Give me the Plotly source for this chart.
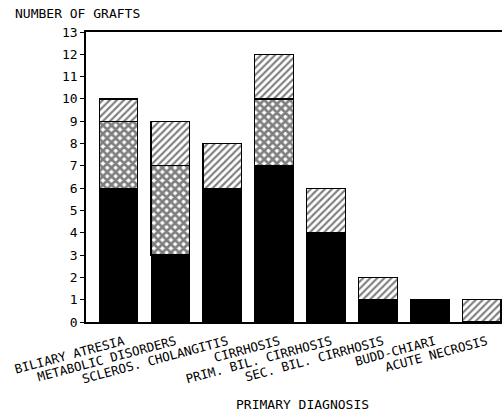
import plotly.graph_objects as go

categories = ["BILIARY ATRESIA", "METABOLIC DISORDERS", "SCLEROS. CHOLANGITIS", "CIRRHOSIS",
              "PRIM. BIL. CIRRHOSIS", "SEC. BIL. CIRRHOSIS", "BUDD-CHIARI", "ACUTE NECROSIS"]
solid_vals = [6, 3, 6, 7, 4, 1, 1, None]
cross_vals = [3, 4, None, 3, None, None, None, None]
diag_vals = [1, 2, 2, 2, 2, 1, None, 1]
y_ticks = list(range(0, 14))

FONT = "DejaVu Sans Mono"

fig = go.Figure()
fig.add_trace(go.Bar(x=categories, y=solid_vals, name="solid",
                     marker=dict(color="black", line=dict(color="black", width=1))))
fig.add_trace(go.Bar(x=categories, y=cross_vals, name="cross",
                     marker=dict(color="white", line=dict(color="black", width=1.2),
                                 pattern=dict(shape="x", fgcolor="black", bgcolor="white",
                                              size=6, solidity=0.7))))
fig.add_trace(go.Bar(x=categories, y=diag_vals, name="diag",
                     marker=dict(color="white", line=dict(color="black", width=1.2),
                                 pattern=dict(shape="/", fgcolor="black", bgcolor="white",
                                              size=5, solidity=0.42))))

fig.update_layout(
    width=503, height=413,
    barmode="stack", bargap=0.256,
    showlegend=False,
    plot_bgcolor="white", paper_bgcolor="white",
    margin=dict(l=86, r=1, t=32, b=91, autoexpand=False),
    font=dict(family=FONT, size=12, color="black"),
    xaxis=dict(showline=True, linecolor="black", linewidth=1.5, mirror=True,
               range=[-0.626, 7.39],
               ticks="", tickangle=-15, tickfont=dict(size=12.5, family=FONT),
               ticklabelstandoff=6, ticklabelshift=5,
               showgrid=False, automargin=False),
    yaxis=dict(range=[0, 13], tickvals=y_ticks, showline=True, linecolor="black",
               linewidth=1.5, ticks="outside", ticklen=4, tickcolor="black",
               showgrid=False, zeroline=False, automargin=False,
               tickfont=dict(size=13, family=FONT)),
    annotations=[
        dict(text="NUMBER OF GRAFTS", xref="paper", yref="paper", x=-0.175, y=1.03,
             xanchor="left", yanchor="bottom", showarrow=False,
             font=dict(size=13, family=FONT)),
        dict(text="PRIMARY DIAGNOSIS", xref="paper", yref="paper", x=0.52, y=-0.25,
             xanchor="center", yanchor="top", showarrow=False,
             font=dict(size=13, family=FONT)),
    ],
)

fig.write_html("out.html", config={"displayModeBar": False},
               post_script="document.body.style.margin='0';document.body.style.overflow='hidden';")
